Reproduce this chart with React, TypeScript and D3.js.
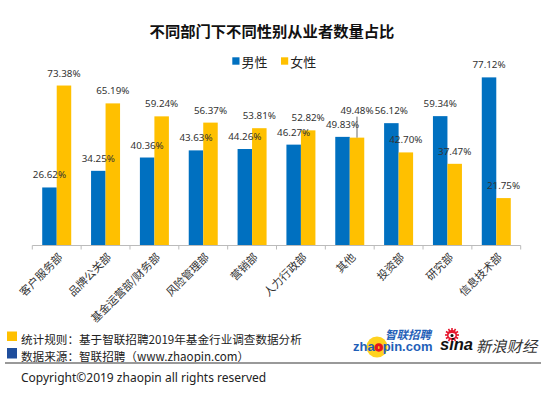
import React from "react";
import * as d3 from "d3";

const categories = ["客户服务部", "品牌公关部", "基金运营部/财务部", "风险管理部", "营销部", "人力行政部", "其他", "投资部", "研究部", "信息技术部"];
const maleValues = [26.62, 34.25, 40.36, 43.63, 44.26, 46.27, 49.83, 56.12, 59.34, 77.12];
const femaleValues = [73.38, 65.19, 59.24, 56.37, 53.81, 52.82, 49.48, 42.7, 37.47, 21.75];
const seriesNames = ["男性", "女性"];
const title = "不同部门下不同性别从业者数量占比";
const footnotes = ["统计规则：基于智联招聘2019年基金行业调查数据分析", "数据来源：智联招聘（www.zhaopin.com）"];
const copyright = "Copyright©2019 zhaopin all rights reserved";

const BLUE = "#0070C0";
const YELLOW = "#FFC000";
const CJK = "'Noto Sans CJK SC', 'Noto Sans', sans-serif";

export default function App() {
  const W = 550, H = 396;
  const x0 = 32.3, x1 = 520.7, base = 245.5;
  const x = d3.scaleBand<string>().domain(categories).range([x0, x1]).paddingInner(0).paddingOuter(0);
  const y = d3.scaleLinear().domain([0, 100]).range([base, base - 218]);
  const barW = 14.5;
  const bw = x.bandwidth();

  const labelOffset = (cat: string, s: number) => (cat === "其他" && s === 1 ? 27 : 12.5);

  const items = categories.flatMap((c, i) => {
    const cx = (x(c) as number) + bw / 2;
    return [maleValues[i], femaleValues[i]].map((v, s) => ({
      key: c + s,
      cat: c,
      s,
      v,
      bx: cx - barW + s * barW,
      top: y(v),
      off: labelOffset(c, s),
    }));
  });

  return (
    <svg width={W} height={H} style={{ position: "absolute", left: 0, top: 0, background: "#fff" }} fontFamily={CJK}>
      <rect width={W} height={H} fill="#fff" />
      <text x={272} y={30} textAnchor="middle" dominantBaseline="central" fontSize={15.3} fontWeight="bold" fill="#111">{title}</text>

      {/* legend */}
      <rect x={232.3} y={57.3} width={7.2} height={7.4} fill={BLUE} />
      <text x={241.5} y={61.3} dominantBaseline="central" fontSize={13} fill="#222">{seriesNames[0]}</text>
      <rect x={281} y={57.3} width={7.2} height={7.4} fill={YELLOW} />
      <text x={290.2} y={61.3} dominantBaseline="central" fontSize={13} fill="#222">{seriesNames[1]}</text>

      {/* bars */}
      {items.map((d) => (
        <rect key={"b" + d.key} x={d.bx} y={d.top} width={barW} height={base - d.top} fill={d.s === 0 ? BLUE : YELLOW} />
      ))}
      {/* labels */}
      {items.map((d) => (
        <g key={"lab" + d.key}>
          {d.off > 13 && (
            <line x1={d.bx + barW / 2} x2={d.bx + barW / 2} y1={d.top - d.off + 6} y2={d.top} stroke="#444" strokeWidth={0.8} />
          )}
          <text x={d.bx + barW / 2} y={d.top - d.off} textAnchor="middle" dominantBaseline="central" fontSize={9.8} fontFamily="'Noto Sans', sans-serif" fill="#333">
            {d.v.toFixed(2)}%
          </text>
        </g>
      ))}

      {/* axis */}
      <line x1={x0} x2={x1} y1={base} y2={base} stroke="#bbb" strokeWidth={1} />
      {categories.concat(["__end"]).map((c, i) => {
        const tx = x0 + i * bw;
        return <line key={"t" + i} x1={tx} x2={tx} y1={base} y2={base + 4} stroke="#bbb" strokeWidth={1} />;
      })}
      {categories.map((c) => {
        const cx = (x(c) as number) + bw / 2;
        const ax = cx + 3, ay = base + 9;
        return (
          <text key={"l" + c} x={ax} y={ay} textAnchor="end" dominantBaseline="central" fontSize={11} fill="#333" transform={`rotate(-45 ${ax} ${ay})`}>
            {c}
          </text>
        );
      })}

      {/* footnotes */}
      <rect x={7} y={331.5} width={10} height={9.5} fill={YELLOW} />
      <text x={21} y={339.4} dominantBaseline="central" fontSize={11.6} fill="#222">{footnotes[0]}</text>
      <rect x={7} y={348} width={10} height={10.5} fill="#1F4E9C" />
      <text x={21} y={356.3} dominantBaseline="central" fontSize={11.6} fill="#222">{footnotes[1]}</text>
      <line x1={5} x2={541} y1={363} y2={363} stroke="#999" strokeWidth={2} />
      <text x={21} y={377} dominantBaseline="central" fontSize={12} fontFamily="'Noto Sans', 'Liberation Sans', sans-serif" fill="#222">{copyright}</text>

      {/* zhaopin logo */}
      <circle cx={377} cy={347} r={10.5} fill="#FFD21F" />
      <text x={385} y={333.5} dominantBaseline="central" fontSize={11.5} fontWeight="bold" fontStyle="italic" fill="#1F5FB8">智联招聘</text>
      <text x={353} y={350.5} fontSize={13} fontWeight="bold" fontFamily="'Liberation Sans', Arial, sans-serif" fill="#1F5FB8">
        zha<tspan fill="#E8141C" stroke="#E8141C" strokeWidth={1.5}>o</tspan>pin.com
      </text>

      {/* sina logo */}
      <g>
        {d3.range(12).map((k) => {
          const a = (k / 12) * Math.PI * 2;
          return <line key={k} x1={452 + Math.cos(a) * 4} y1={335 + Math.sin(a) * 4} x2={452 + Math.cos(a) * 7} y2={335 + Math.sin(a) * 7} stroke="#E6162D" strokeWidth={1.6} />;
        })}
        <circle cx={452} cy={335} r={5} fill="#E6162D" />
        <ellipse cx={452} cy={335.5} rx={3.4} ry={2.4} fill="#fff" />
        <circle cx={452} cy={335.5} r={1.5} fill="#111" />
        <text x={440} y={350} fontSize={16.5} fontWeight="bold" fontStyle="italic" fontFamily="'Liberation Sans', Arial, sans-serif" fill="#111">sina</text>
        <text x={476} y={345} dominantBaseline="central" fontSize={15.3} fontStyle="italic" fill="#333">新浪财经</text>
      </g>
    </svg>
  );
}
